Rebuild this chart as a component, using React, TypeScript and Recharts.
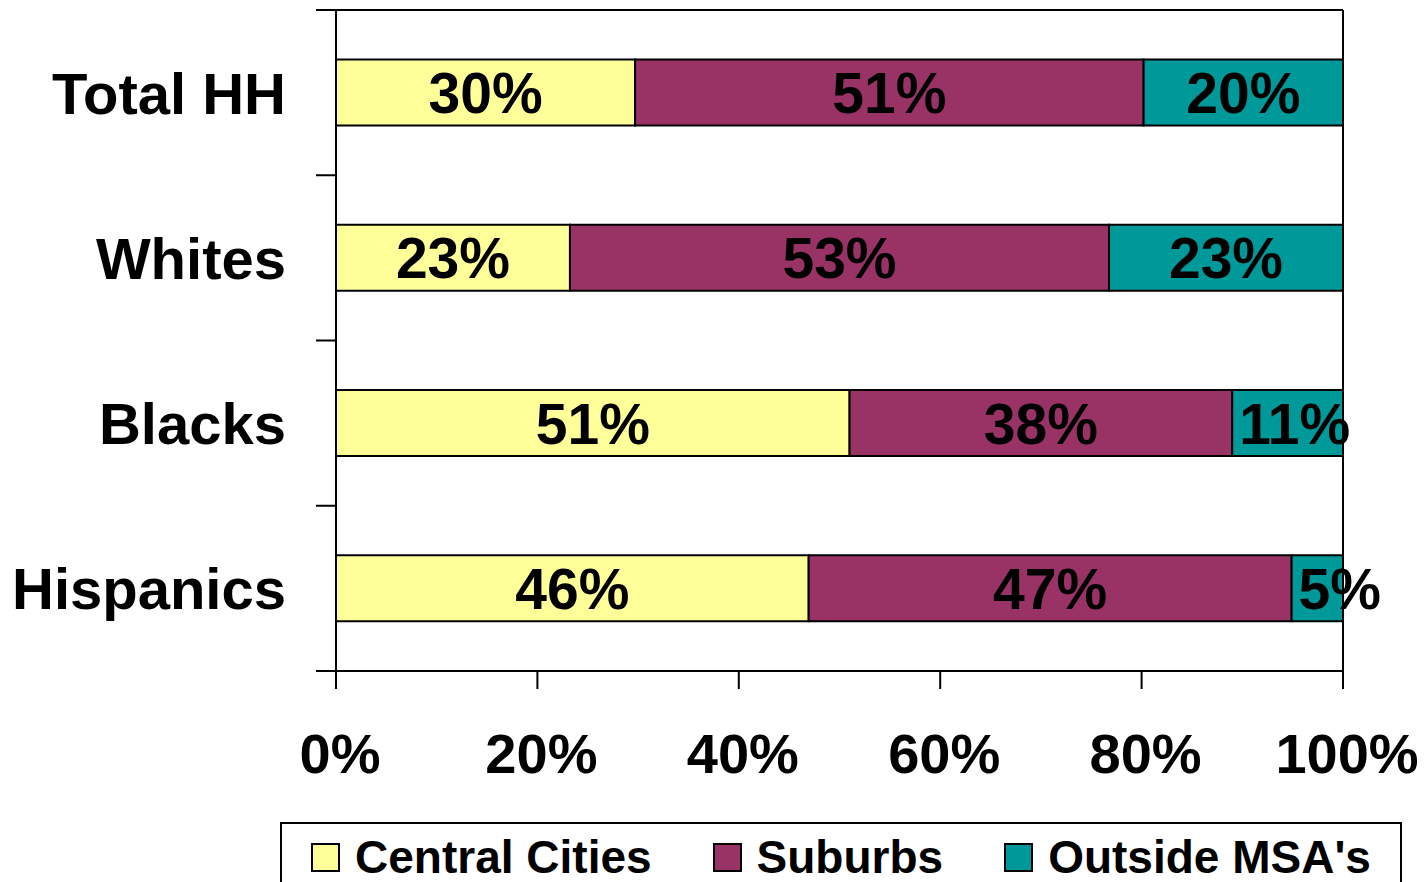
import React from 'react';
import { Bar, BarChart, LabelList, XAxis, YAxis } from 'recharts';

const categories = ['Total HH', 'Whites', 'Blacks', 'Hispanics'];
const centralCities = [30, 23, 51, 46];
const suburbs = [51, 53, 38, 47];
const outsideMsa = [20, 23, 11, 5];
const xTicks = [0, 0.2, 0.4, 0.6, 0.8, 1];

const series = [
  { key: 'central', name: 'Central Cities', color: '#FFFF99', values: centralCities },
  { key: 'suburbs', name: 'Suburbs', color: '#993366', values: suburbs },
  { key: 'outside', name: "Outside MSA's", color: '#009999', values: outsideMsa }
];

const data = categories.map((name, i) => ({
  name,
  central: centralCities[i],
  suburbs: suburbs[i],
  outside: outsideMsa[i]
}));

const W = 1428;
const H = 882;
const MARGIN = { top: 9, right: 84, left: 0, bottom: 111 };
const X_AXIS_H = 100;
const FONT = '"Liberation Sans", Arial, Helvetica, sans-serif';
const HALF_BAND = (H - MARGIN.top - 1 - MARGIN.bottom - X_AXIS_H) / categories.length / 2;

function CategoryTick(props: any) {
  const { x, y, payload, index } = props;
  const axisX = x + 50;
  return (
    <g>
      <text x={x} y={y} dy="0.36em" textAnchor="end" fontFamily={FONT} fontWeight="bold" fontSize={58} fill="#000">
        {payload.value}
      </text>
      <line x1={axisX - 20} x2={axisX} y1={y - HALF_BAND} y2={y - HALF_BAND} stroke="#000" strokeWidth={2} />
      {index === categories.length - 1 && (
        <line x1={axisX - 20} x2={axisX} y1={y + HALF_BAND} y2={y + HALF_BAND} stroke="#000" strokeWidth={2} />
      )}
    </g>
  );
}

function PercentTick(props: any) {
  const { x, y, payload } = props;
  return (
    <text x={x + 4} y={y + 84} textAnchor="middle" fontFamily={FONT} fontWeight="bold" fontSize={56} fill="#000">
      {`${Math.round(payload.value * 100)}%`}
    </text>
  );
}

function makeLabel(values: number[]) {
  return (props: any) => {
    const { x, y, width, height, index } = props;
    const text = `${values[index]}%`;
    const textW = 57 * (0.556 * String(values[index]).length + 0.889);
    const fits = textW < width + 2;
    return (
      <text
        x={fits ? x + width / 2 : x + 7}
        y={y + height / 2}
        dy="0.36em"
        textAnchor={fits ? 'middle' : 'start'}
        fontFamily={FONT}
        fontWeight="bold"
        fontSize={57}
        fill="#000"
      >
        {text}
      </text>
    );
  };
}

function LegendBox() {
  return (
    <div
      style={{
        position: 'absolute',
        left: 280,
        top: 822,
        width: 1122,
        height: 80,
        border: '2px solid #000',
        display: 'flex',
        justifyContent: 'center',
        alignItems: 'flex-start',
        gap: 61,
        paddingTop: 10,
        boxSizing: 'border-box',
        fontFamily: FONT,
        fontWeight: 'bold',
        fontSize: 46,
        color: '#000',
        background: '#fff'
      }}
    >
      {series.map((s) => (
        <div key={s.key} style={{ display: 'flex', alignItems: 'center', gap: 15, lineHeight: '46px', height: 46 }}>
          <span style={{ width: 25, height: 25, background: s.color, border: '2px solid #000', display: 'inline-block' }} />
          <span>{s.name}</span>
        </div>
      ))}
    </div>
  );
}

export default function App() {
  return (
    <div style={{ position: 'absolute', left: 0, top: 0, width: W, height: H, overflow: 'hidden', background: '#fff' }}>
      <BarChart
        width={W}
        height={H}
        data={data}
        layout="vertical"
        stackOffset="expand"
        barCategoryGap="30%"
        margin={MARGIN}
      >
        <XAxis
          type="number"
          domain={[0, 1]}
          ticks={xTicks}
          height={X_AXIS_H}
          tickSize={18}
          tickMargin={0}
          axisLine={{ stroke: '#000', strokeWidth: 2 }}
          tickLine={{ stroke: '#000', strokeWidth: 2 }}
          tick={<PercentTick />}
          interval={0}
        />
        <XAxis
          xAxisId="top"
          orientation="top"
          type="number"
          domain={[0, 1]}
          height={1}
          tick={false}
          tickLine={false}
          axisLine={{ stroke: '#000', strokeWidth: 2 }}
        />
        <YAxis
          type="category"
          dataKey="name"
          width={336}
          tickSize={0}
          tickMargin={50}
          tickLine={false}
          axisLine={{ stroke: '#000', strokeWidth: 2 }}
          tick={<CategoryTick />}
          interval={0}
        />
        <YAxis
          yAxisId="right"
          orientation="right"
          type="category"
          dataKey="name"
          width={1}
          tick={false}
          tickLine={false}
          axisLine={{ stroke: '#000', strokeWidth: 2 }}
        />
        {series.map((s) => (
          <Bar
            key={s.key}
            dataKey={s.key}
            name={s.name}
            stackId="a"
            fill={s.color}
            stroke="#000"
            strokeWidth={2}
            isAnimationActive={false}
          >
            <LabelList content={makeLabel(s.values)} />
          </Bar>
        ))}
      </BarChart>
      <LegendBox />
    </div>
  );
}
